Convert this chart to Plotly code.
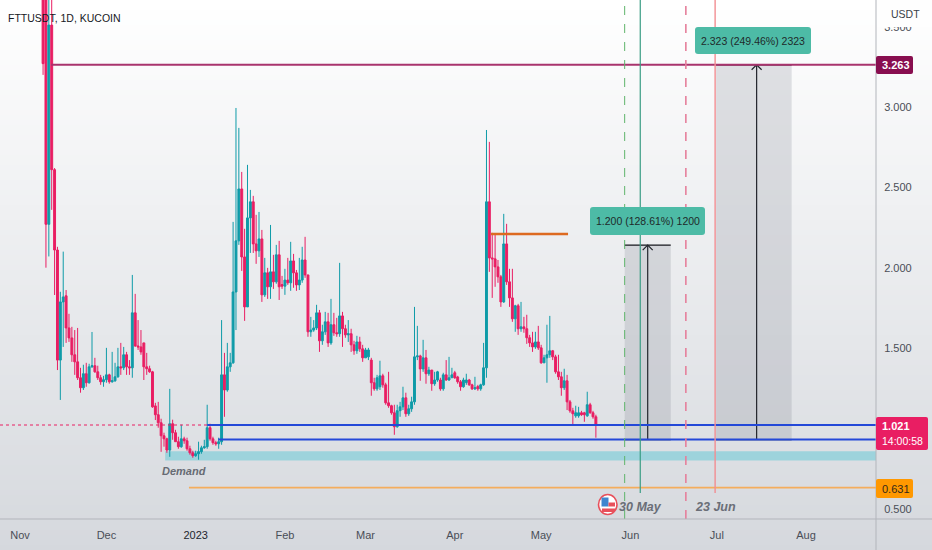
import pandas as pd
import plotly.graph_objects as go

# daily candles, last bar is the 20 May one
opens = [4.4, 4.0, 2.27, 3.51, 2.61, 2.11, 1.425, 1.787, 1.825, 1.625, 1.563, 1.458, 1.414, 1.315, 1.253, 1.34, 1.284, 1.383, 1.39, 1.352,
         1.315, 1.29, 1.303, 1.333, 1.29, 1.296, 1.321, 1.383, 1.377, 1.458, 1.383, 1.377, 1.719, 1.513, 1.507, 1.532, 1.383, 1.371, 1.352, 1.14,
         1.085, 1.035, 0.954, 0.935, 0.865, 1.029, 0.973, 0.917, 0.886, 0.935, 0.923, 0.873, 0.848, 0.83, 0.842, 0.855, 0.879, 0.886, 1.004, 0.935,
         0.911, 0.904, 0.917, 1.333, 1.239, 1.383, 1.408, 1.849, 2.167, 2.49, 2.067, 1.756, 2.31, 2.41, 2.148, 2.105, 2.179, 1.831, 1.968, 1.881,
         1.974, 1.912, 2.08, 1.895, 1.885, 1.923, 1.906, 2.042, 1.968, 1.893, 1.923, 2.048, 1.955, 1.601, 1.612, 1.625, 1.719, 1.545, 1.601, 1.663,
         1.532, 1.645, 1.595, 1.589, 1.7, 1.62, 1.582, 1.589, 1.52, 1.483, 1.538, 1.495, 1.439, 1.445, 1.425, 1.284, 1.246, 1.259, 1.327, 1.271,
         1.159, 1.141, 1.097, 1.01, 1.11, 1.134, 1.19, 1.091, 1.122, 1.165, 1.445, 1.451, 1.37, 1.439, 1.34, 1.363, 1.278, 1.301, 1.301, 1.246,
         1.333, 1.301, 1.315, 1.346, 1.32, 1.29, 1.259, 1.285, 1.301, 1.271, 1.246, 1.26, 1.246, 1.271, 1.377, 2.41, 2.061, 2.055, 2.005, 1.943,
         1.787, 2.148, 1.912, 1.812, 1.682, 1.763, 1.62, 1.632, 1.62, 1.564, 1.532, 1.507, 1.538, 1.501, 1.408, 1.439, 1.458, 1.483, 1.445, 1.352,
         1.321, 1.253, 1.296, 1.165, 1.109, 1.078, 1.078, 1.097, 1.097, 1.078, 1.147, 1.097, 1.072]
highs = [4.8, 4.4, 3.9, 3.9, 2.62, 2.13, 1.85, 2.10, 1.861, 1.713, 1.632, 1.612, 1.625, 1.377, 1.396, 1.408, 1.402, 1.6, 1.439, 1.39,
         1.333, 1.327, 1.501, 1.34, 1.476, 1.408, 1.501, 1.532, 1.507, 1.476, 1.425, 1.955, 1.837, 1.674, 1.612, 1.532, 1.47, 1.39, 1.358, 1.159,
         1.165, 1.06, 0.973, 0.942, 1.246, 1.054, 0.991, 0.948, 1.023, 0.948, 0.942, 0.892, 0.861, 0.861, 0.917, 0.892, 0.929, 1.147, 1.029, 0.948,
         0.923, 0.942, 1.674, 1.47, 1.532, 1.47, 2.285, 2.994, 2.87, 2.596, 2.242, 2.64, 2.484, 2.447, 2.329, 2.347, 2.235, 2.061, 1.999, 2.266,
         2.08, 2.142, 2.167, 1.949, 1.993, 2.061, 2.161, 2.086, 1.986, 2.061, 2.13, 2.192, 1.955, 1.694, 1.674, 1.769, 1.737, 1.645, 1.725, 1.719,
         1.806, 1.719, 1.688, 2.03, 1.725, 1.645, 1.674, 1.62, 1.545, 1.576, 1.57, 1.52, 1.501, 1.501, 1.439, 1.315, 1.333, 1.421, 1.34, 1.284,
         1.352, 1.147, 1.147, 1.147, 1.165, 1.259, 1.222, 1.147, 1.197, 1.756, 1.638, 1.458, 1.551, 1.488, 1.383, 1.363, 1.352, 1.358, 1.315, 1.346,
         1.425, 1.445, 1.377, 1.358, 1.327, 1.301, 1.315, 1.34, 1.308, 1.278, 1.321, 1.271, 1.278, 1.532, 2.857, 2.783, 2.217, 2.204, 2.048, 1.955,
         2.335, 2.273, 1.993, 1.993, 1.769, 1.775, 1.787, 1.694, 1.707, 1.582, 1.601, 1.601, 1.638, 1.52, 1.458, 1.645, 1.7, 1.488, 1.458, 1.458,
         1.352, 1.371, 1.333, 1.177, 1.128, 1.141, 1.134, 1.109, 1.103, 1.228, 1.159, 1.109, 1.085]
lows = [3.2, 2.0, 2.07, 2.36, 1.83, 1.363, 1.177, 1.507, 1.532, 1.538, 1.414, 1.333, 1.301, 1.222, 1.239, 1.259, 1.278, 1.377, 1.346, 1.301,
        1.271, 1.259, 1.284, 1.278, 1.284, 1.29, 1.315, 1.333, 1.363, 1.333, 1.333, 1.315, 1.507, 1.488, 1.458, 1.301, 1.333, 1.346, 1.128, 1.052,
        1.004, 0.854, 0.886, 0.848, 0.823, 0.929, 0.917, 0.873, 0.879, 0.904, 0.861, 0.836, 0.817, 0.823, 0.805, 0.842, 0.873, 0.873, 0.923, 0.898,
        0.892, 0.873, 0.898, 1.072, 1.228, 1.352, 1.402, 1.612, 2.142, 1.98, 1.669, 1.756, 2.092, 2.092, 2.024, 2.067, 1.787, 1.818, 1.806, 1.806,
        1.868, 1.9, 1.799, 1.868, 1.831, 1.893, 1.856, 1.875, 1.856, 1.861, 1.906, 1.937, 1.57, 1.57, 1.601, 1.612, 1.476, 1.52, 1.582, 1.507,
        1.52, 1.576, 1.57, 1.57, 1.507, 1.564, 1.538, 1.476, 1.458, 1.464, 1.476, 1.414, 1.439, 1.425, 1.203, 1.234, 1.234, 1.239, 1.253, 1.147,
        1.128, 1.085, 0.96, 1.004, 1.072, 1.114, 1.072, 1.078, 1.103, 1.147, 1.425, 1.296, 1.352, 1.278, 1.327, 1.234, 1.265, 1.29, 1.234, 1.234,
        1.296, 1.296, 1.315, 1.308, 1.278, 1.234, 1.253, 1.271, 1.265, 1.239, 1.239, 1.234, 1.234, 1.265, 1.315, 1.974, 1.812, 1.881, 1.906, 1.756,
        1.781, 1.893, 1.756, 1.663, 1.601, 1.582, 1.601, 1.595, 1.526, 1.507, 1.476, 1.495, 1.488, 1.402, 1.408, 1.284, 1.439, 1.425, 1.34, 1.301,
        1.203, 1.239, 1.114, 1.097, 1.023, 1.066, 1.066, 1.078, 1.041, 1.072, 1.091, 1.06, 0.942]
closes = [3.27, 2.27, 3.51, 2.61, 2.11, 1.425, 1.787, 1.818, 1.625, 1.563, 1.458, 1.414, 1.315, 1.253, 1.34, 1.284, 1.383, 1.39, 1.352, 1.315,
          1.29, 1.303, 1.333, 1.29, 1.296, 1.321, 1.383, 1.377, 1.458, 1.383, 1.377, 1.719, 1.513, 1.507, 1.476, 1.383, 1.371, 1.352, 1.134, 1.085,
          1.035, 0.954, 0.935, 0.865, 1.029, 0.973, 0.917, 0.886, 0.935, 0.923, 0.873, 0.848, 0.83, 0.842, 0.855, 0.879, 0.886, 1.004, 0.935, 0.911,
          0.904, 0.917, 1.333, 1.239, 1.383, 1.408, 1.849, 2.167, 2.49, 2.067, 1.756, 2.31, 2.41, 2.148, 2.105, 2.179, 1.831, 1.968, 1.881, 1.974,
          1.912, 2.08, 1.881, 1.885, 1.923, 1.906, 2.042, 1.968, 1.893, 1.923, 2.048, 1.955, 1.601, 1.612, 1.625, 1.719, 1.545, 1.601, 1.663, 1.532,
          1.645, 1.595, 1.589, 1.7, 1.62, 1.582, 1.589, 1.52, 1.483, 1.538, 1.495, 1.439, 1.488, 1.488, 1.284, 1.246, 1.315, 1.327, 1.271, 1.159,
          1.141, 1.097, 1.01, 1.11, 1.134, 1.19, 1.091, 1.122, 1.165, 1.445, 1.451, 1.37, 1.439, 1.34, 1.363, 1.278, 1.301, 1.352, 1.246, 1.333,
          1.301, 1.315, 1.333, 1.315, 1.29, 1.259, 1.301, 1.301, 1.271, 1.246, 1.253, 1.246, 1.271, 1.377, 2.41, 2.061, 2.055, 2.005, 1.943, 1.787,
          2.148, 1.912, 1.812, 1.682, 1.763, 1.62, 1.632, 1.62, 1.564, 1.532, 1.507, 1.538, 1.501, 1.408, 1.439, 1.458, 1.483, 1.445, 1.352, 1.321,
          1.253, 1.296, 1.165, 1.109, 1.091, 1.097, 1.097, 1.085, 1.085, 1.147, 1.097, 1.072, 1.021]
days = pd.date_range(end="2023-05-20", periods=len(closes))

month_ticks = ["2022-11-01", "2022-12-01", "2023-01-01", "2023-02-01", "2023-03-01", "2023-04-01", "2023-05-01", "2023-06-01", "2023-07-01", "2023-08-01"]
month_labels = ["Nov", "Dec", "<span style='color:#23262d'>2023</span>", "Feb", "Mar", "Apr", "May", "Jun", "Jul", "Aug"]
price_ticks = [0.5, 1.5, 2.0, 2.5, 3.0, 3.5]

target_price = 3.263
last_price = 1.021
entry_price = 0.93
support_price = 0.631
pivot_price = 2.21
target_one = 2.14
target_two = 3.263
demand_zone = [0.80, 0.857]

x_range = ["2022-10-25 01:00", "2023-08-25 07:00"]
y_range = [0.436, 3.666]

UP = "#0e9ba8"
DOWN = "#e91e63"
TEXT_FONT = "Liberation Sans"
W, H = 932, 550
PLOT_W, PLOT_H = 876, 519


def px(x):
    return x / PLOT_W


def py(y):
    return 1 - y / PLOT_H


def rounded(x0, y0, x1, y1, r, color):
    path = (
        f"M {px(x0 + r)} {py(y0)} L {px(x1 - r)} {py(y0)} Q {px(x1)} {py(y0)} {px(x1)} {py(y0 + r)} "
        f"L {px(x1)} {py(y1 - r)} Q {px(x1)} {py(y1)} {px(x1 - r)} {py(y1)} "
        f"L {px(x0 + r)} {py(y1)} Q {px(x0)} {py(y1)} {px(x0)} {py(y1 - r)} "
        f"L {px(x0)} {py(y0 + r)} Q {px(x0)} {py(y0)} {px(x0 + r)} {py(y0)} Z"
    )
    return dict(type="path", path=path, xref="paper", yref="paper", fillcolor=color, line_width=0, layer="above")


def label(x, y, text, size=10.5, color="#1f2a2a", anchor="center"):
    return dict(xref="paper", yref="paper", x=px(x), y=py(y), text=text, showarrow=False, xanchor=anchor,
                yanchor="middle", font=dict(family=TEXT_FONT, size=size, color=color))


shapes = []
annotations = []

# page background fades from white to grey
for top in range(0, H, 5):
    t = top / H
    c = [round(255 - 42 * t), round(255 - 39 * t), round(255 - 34 * t)]
    shapes.append(dict(type="rect", xref="paper", yref="paper", x0=0, x1=px(W), y0=py(top + 5), y1=py(top),
                       fillcolor=f"rgb({c[0]},{c[1]},{c[2]})", line_width=0, layer="below"))

# demand zone and the two long position boxes
shapes.append(dict(type="rect", x0="2022-12-21 10:00", x1=x_range[1], y0=demand_zone[0], y1=demand_zone[1],
                   fillcolor="#9dd3dc", line_width=0, layer="below"))
for start, end, top, when in [("2023-05-30", "2023-06-15", target_one, "2023-06-07"),
                              ("2023-06-30 18:00", "2023-07-27", target_two, "2023-07-14 20:00")]:
    shapes.append(dict(type="rect", x0=start, x1=end, y0=entry_price, y1=top, fillcolor="rgba(125,128,140,0.22)",
                       line_width=0, layer="below"))
    for lvl in (entry_price, top):
        shapes.append(dict(type="line", x0=start, x1=end, y0=lvl, y1=lvl, line=dict(color="#14161c", width=1.3)))
    # open arrow head on top of the position arrow
    shapes.append(dict(type="path", xsizemode="pixel", ysizemode="pixel", xanchor=when, yanchor=top,
                       path="M -5 -5 L 0 0 L 5 -5", line=dict(color="#22252c", width=1.2)))

# horizontal levels
shapes.append(dict(type="line", x0=x_range[0], x1="2023-01-05", y0=last_price, y1=last_price,
                   line=dict(color=DOWN, width=1, dash="dot")))
shapes.append(dict(type="line", x0="2022-11-11 20:00", x1=x_range[1], y0=target_price, y1=target_price,
                   line=dict(color="#a8336d", width=2)))
shapes.append(dict(type="line", x0="2023-01-05", x1=x_range[1], y0=last_price, y1=last_price,
                   line=dict(color="#2448d8", width=2)))
shapes.append(dict(type="line", x0="2023-01-08 20:00", x1=x_range[1], y0=entry_price, y1=entry_price,
                   line=dict(color="#2448d8", width=2)))
shapes.append(dict(type="line", x0="2022-12-29 16:00", x1=x_range[1], y0=support_price, y1=support_price,
                   line=dict(color="#f4ad5c", width=1.6)))
shapes.append(dict(type="line", x0="2023-04-13 14:00", x1="2023-05-10 08:00", y0=pivot_price, y1=pivot_price,
                   line=dict(color="#dd6a20", width=2.6)))

# vertical date markers
shapes.append(dict(type="line", x0="2023-05-30", x1="2023-05-30", yref="paper", y0=0, y1=1,
                   line=dict(color="#5fb56b", width=1, dash="dash")))
shapes.append(dict(type="line", x0="2023-06-04 10:00", x1="2023-06-04 10:00", yref="paper", y0=py(493), y1=1,
                   line=dict(color="#3a9c84", width=1.2)))
shapes.append(dict(type="line", x0="2023-06-20 06:00", x1="2023-06-20 06:00", yref="paper", y0=0, y1=1,
                   line=dict(color="#e5809c", width=1.6, dash="dash")))
shapes.append(dict(type="line", x0="2023-06-30 10:00", x1="2023-06-30 10:00", yref="paper", y0=py(493), y1=1,
                   line=dict(color="#f28d92", width=1.4)))

# axis borders
shapes.append(dict(type="line", xref="paper", yref="paper", x0=1, x1=1, y0=py(H), y1=1, line=dict(color="#b2b5bb", width=1), layer="above"))
shapes.append(dict(type="line", xref="paper", yref="paper", x0=0, x1=px(W), y0=0, y1=0, line=dict(color="#b2b5bb", width=1), layer="above"))

# covers the half hidden 3.500 tick
shapes.append(dict(type="rect", xref="paper", yref="paper", x0=px(877), x1=px(W), y0=py(27), y1=1, fillcolor="#fefefe", line_width=0, layer="above"))

# position labels
shapes.append(rounded(590, 207, 705, 235, 3, "#4dbba6"))
shapes.append(rounded(695, 27, 811, 54, 3, "#4dbba6"))
annotations.append(label(648, 221, "1.200 (128.61%) 1200"))
annotations.append(label(753, 40.5, "2.323 (249.46%) 2323"))

# price tags on the axis
shapes.append(rounded(876, 56, 913, 74, 2, "#880e4f"))
shapes.append(rounded(876, 417, 928, 450, 2, DOWN))
shapes.append(rounded(876, 479, 913, 498, 2, "#ff9800"))
annotations.append(label(880, 65, "<b>3.263</b>", color="#ffffff", size=11, anchor="left"))
annotations.append(label(880, 426, "<b>1.021</b>", color="#ffffff", size=11, anchor="left"))
annotations.append(label(880, 441, "14:00:58", color="#ffffff", anchor="left"))
annotations.append(label(880, 488.5, "0.631", color="#33281a", size=11, anchor="left"))

annotations.append(label(906, 14, "USDT", color="#3a3f47"))
annotations.append(label(6, 18, "FTTUSDT, 1D, KUCOIN", color="#16181d", anchor="left"))
annotations.append(label(184, 471, "<b><i>Demand</i></b>", color="#676b74", size=11))
annotations.append(label(640, 507, "<b><i>30 May</i></b>", color="#6a6e77", size=12.5))
annotations.append(label(715, 507, "<b><i>23 Jun</i></b>", color="#6a6e77", size=12.5))

# event flag
shapes.append(dict(type="circle", xref="paper", yref="paper", x0=px(598.5), x1=px(617), y0=py(514.5), y1=py(494.5),
                   fillcolor="#ffffff", line=dict(color="#e8505b", width=1.6), layer="above"))
shapes.append(dict(type="rect", xref="paper", yref="paper", x0=px(601.5), x1=px(608.5), y0=py(506.5), y1=py(497.5),
                   fillcolor="#3f86cf", line_width=0, layer="above"))
for y0, y1, x0 in [(502.5, 506.5, 608.5), (508.5, 512, 602)]:
    shapes.append(dict(type="rect", xref="paper", yref="paper", x0=px(x0), x1=px(615), y0=py(y1), y1=py(y0),
                       fillcolor="#e8505b", line_width=0, layer="above"))

fig = go.Figure()
fig.add_trace(go.Candlestick(
    x=days, open=opens, high=highs, low=lows, close=closes,
    increasing=dict(line=dict(color=UP, width=1), fillcolor=UP),
    decreasing=dict(line=dict(color=DOWN, width=1), fillcolor=DOWN),
    whiskerwidth=0, showlegend=False,
))
for when, top in [("2023-06-07", target_one), ("2023-07-14 20:00", target_two)]:
    fig.add_trace(go.Scatter(x=[when, when], y=[entry_price, top], mode="lines", showlegend=False,
                             line=dict(color="#22252c", width=1.2)))

fig.update_layout(
    width=W, height=H,
    margin=dict(l=0, r=W - PLOT_W, t=0, b=H - PLOT_H),
    paper_bgcolor="#e2e4e8", plot_bgcolor="rgba(0,0,0,0)",
    shapes=shapes, annotations=annotations, showlegend=False, boxgap=0.05,
    font=dict(family=TEXT_FONT, size=11, color="#4a4e57"),
)
fig.update_xaxes(range=x_range, rangeslider_visible=False, showgrid=False, zeroline=False, showline=False,
                 tickmode="array", tickvals=month_ticks, ticktext=month_labels,
                 ticks="outside", ticklen=6, tickcolor="rgba(0,0,0,0)")
fig.update_yaxes(range=y_range, side="right", showgrid=False, zeroline=False, showline=False,
                 tickmode="array", tickvals=price_ticks, tickformat=".3f",
                 ticks="outside", ticklen=5, tickcolor="rgba(0,0,0,0)")

fig.write_html("out.html", post_script="document.body.style.margin='0';", config={"displayModeBar": False})
